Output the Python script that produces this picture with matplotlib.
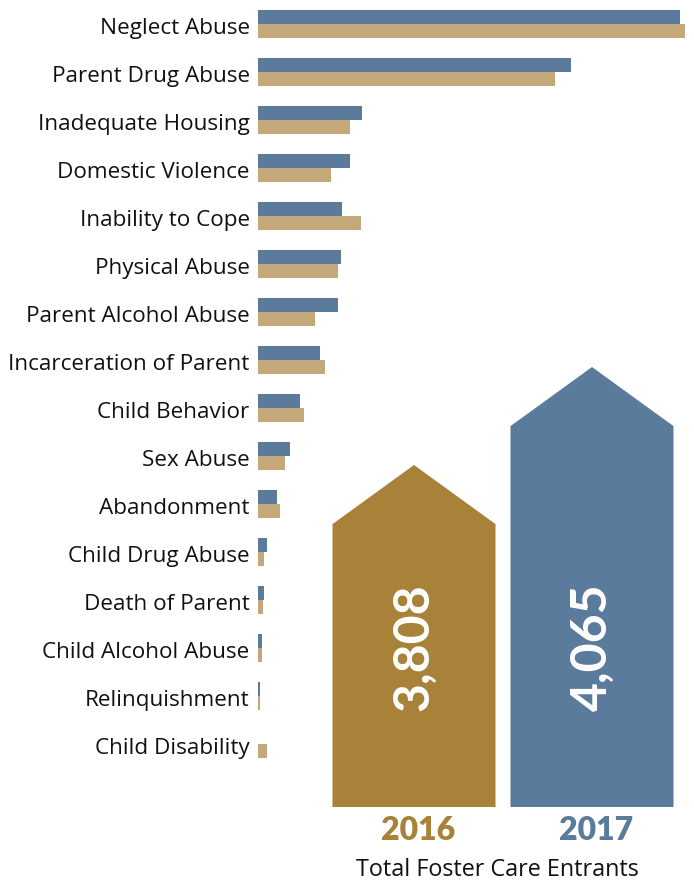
import matplotlib
matplotlib.use("Agg")
import matplotlib.pyplot as plt
from matplotlib.patches import Polygon
from matplotlib.transforms import ScaledTranslation

categories = ["Neglect Abuse", "Parent Drug Abuse", "Inadequate Housing",
              "Domestic Violence", "Inability to Cope", "Physical Abuse",
              "Parent Alcohol Abuse", "Incarceration of Parent", "Child Behavior",
              "Sex Abuse", "Abandonment", "Child Drug Abuse", "Death of Parent",
              "Child Alcohol Abuse", "Relinquishment", "Child Disability"]
values_2017 = [422, 313, 104, 92, 84, 83, 80, 62, 42, 32, 19, 9, 6, 4, 2, 0]
values_2016 = [427, 297, 92, 73, 103, 80, 57, 67, 46, 27, 22, 6, 5, 4, 2, 9]

years = ["2016", "2017"]
totals = [3808, 4065]
total_labels = ["3,808", "4,065"]

BLUE = "#5A7B9C"
TAN = "#C5A87A"
GOLD = "#A98239"
house_colors = [GOLD, BLUE]

W, H = 694, 886
fig = plt.figure(figsize=(W / 100, H / 100), dpi=100)
plt.rcParams['font.family'] = ['Open Sans', 'DejaVu Sans']

# Bars axes
ax = fig.add_axes([258 / W, 0, 436 / W, 1])
ax.set_xlim(0, 436)
ax.set_ylim((H - 24) / 48, -0.5)
idx = list(range(len(categories)))
bh = 0.29
ax.barh([i - bh / 2 for i in idx], values_2017, height=bh, color=BLUE, linewidth=0)
ax.barh([i + bh / 2 for i in idx], values_2016, height=bh, color=TAN, linewidth=0)
ax.set_yticks(idx)
ax.set_yticklabels(categories, fontsize=16.2, color="#111111")
ax.tick_params(axis='y', length=0, pad=6)
off = ScaledTranslation(0, -2 / 100, fig.dpi_scale_trans)
for lab in ax.get_yticklabels():
    lab.set_transform(lab.get_transform() + off)
ax.set_xticks([])
for s in ax.spines.values():
    s.set_visible(False)
ax.patch.set_alpha(0)

# Houses axes
k = 342 / (3808 - 2911)
base = 2911
left_px, right_px = 325, 690
bot_px, top_px = 807, 300
hax = fig.add_axes([left_px / W, (H - bot_px) / H, (right_px - left_px) / W, (bot_px - top_px) / H])
hax.set_xlim(-0.5, (right_px - 414) / 178)
hax.set_ylim(base, base + (bot_px - top_px) / k)
hax.axis('off')
hw = 163 / 178 / 2
drop = 155
for i, (t, c, lab) in enumerate(zip(totals, house_colors, total_labels)):
    pts = [(i - hw, base), (i + hw, base), (i + hw, t - drop), (i, t), (i - hw, t - drop)]
    hax.add_patch(Polygon(pts, closed=True, facecolor=c, edgecolor='none'))
    hax.text(i, base + 160 / k, lab, rotation=90, ha='center', va='center',
             color='white', fontsize=36, fontweight='bold', family=['Lato', 'DejaVu Sans'])

for i, (y, c) in enumerate(zip(years, house_colors)):
    fig.text((418 + 178 * i) / W, 1 - 831 / H, y, ha='center', va='center',
             fontsize=23, fontweight='heavy', color=c, family=['Lato', 'DejaVu Sans'])
fig.text(497 / W, 1 - 870 / H, "Total Foster Care Entrants", ha='center', va='center',
         fontsize=16.8, color="#111111")

fig.savefig("out.png", dpi=100)
